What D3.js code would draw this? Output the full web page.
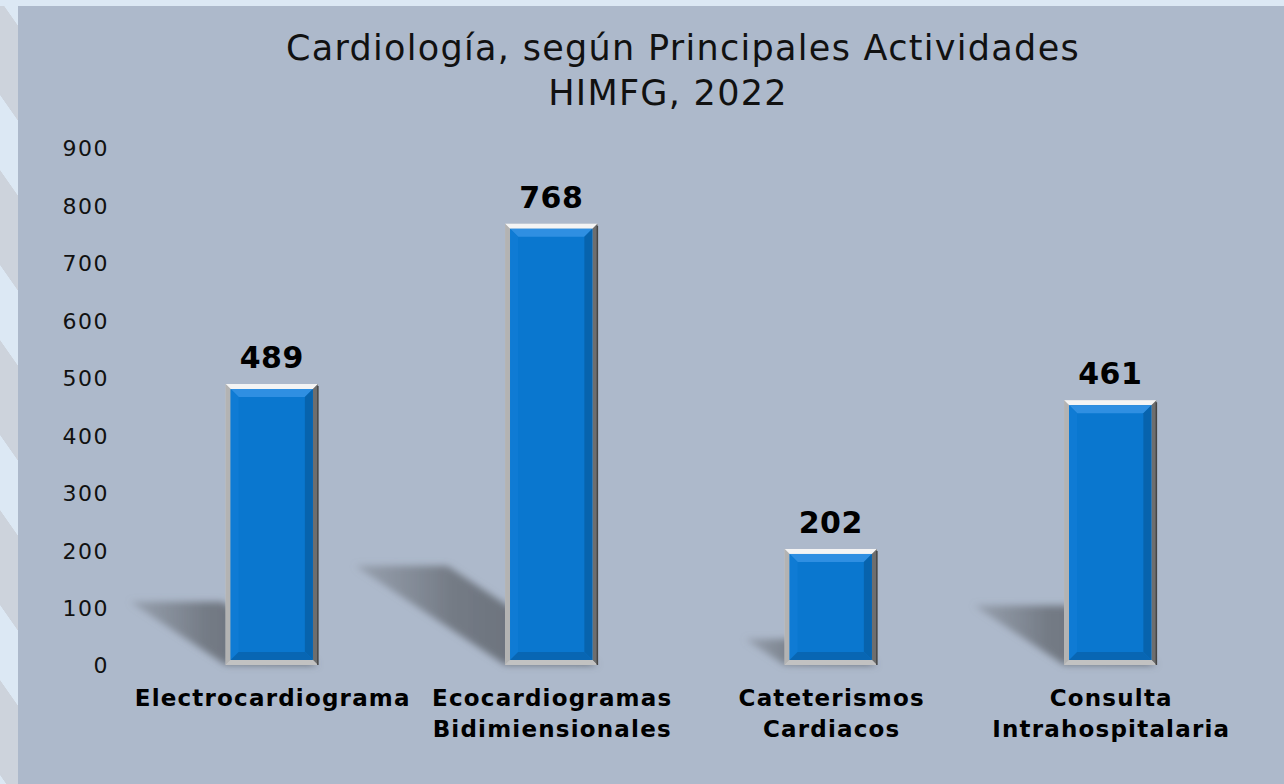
<!DOCTYPE html>
<html><head><meta charset="utf-8">
<script src="https://cdn.jsdelivr.net/npm/d3@7"></script>
<style>
html,body{margin:0;padding:0;background:#dce8f4;}
svg{display:block;}
</style></head>
<body>
<script>
const categories = [["Electrocardiograma"], ["Ecocardiogramas","Bidimiensionales"], ["Cateterismos","Cardiacos"], ["Consulta","Intrahospitalaria"]];
const values = [489, 768, 202, 461];
const yTicks = [0,100,200,300,400,500,600,700,800,900];
const titleLines = ["Cardiología, según Principales Actividades", "HIMFG, 2022"];

const W = 1284, H = 784;
const svg = d3.select("body").append("svg").attr("width", W).attr("height", H);
const defs = svg.append("defs");

// left decorative strip
const pat = defs.append("pattern").attr("id","stripes").attr("patternUnits","userSpaceOnUse")
  .attr("width", 60).attr("height", 170).attr("patternTransform","skewY(55)");
pat.append("rect").attr("width",60).attr("height",170).attr("fill","#dce8f4");
pat.append("rect").attr("y",0).attr("width",60).attr("height",95).attr("fill","#cdd3dc");
svg.append("rect").attr("x",0).attr("y",0).attr("width",W).attr("height",H).attr("fill","#dce8f4");
svg.append("rect").attr("x",0).attr("y",6).attr("width",18).attr("height",H).attr("fill","url(#stripes)");

// panel
svg.append("rect").attr("x",18).attr("y",6).attr("width",W-18).attr("height",H-6).attr("fill","#adb9cb");

const blur = defs.append("filter").attr("id","blur").attr("x","-20%").attr("y","-20%").attr("width","140%").attr("height","140%");
blur.append("feGaussianBlur").attr("stdDeviation",3.5);
const sg = defs.append("linearGradient").attr("id","shgrad").attr("x1",0).attr("x2",1).attr("y1",0).attr("y2",0);
sg.append("stop").attr("offset","0%").attr("stop-color","#7a8089").attr("stop-opacity",0.45);
sg.append("stop").attr("offset","40%").attr("stop-color","#6a7079").attr("stop-opacity",0.85);
sg.append("stop").attr("offset","100%").attr("stop-color","#5d636c").attr("stop-opacity",0.95);

const x = d3.scaleBand().domain(d3.range(values.length)).range([132, 1250]).paddingInner(0.67).paddingOuter(0.335);
const y = d3.scaleLinear().domain([0, 900]).range([665, 148]);

// y axis labels
const yAxis = d3.axisLeft(y).tickValues(yTicks).tickSize(0).tickPadding(0);
const gy = svg.append("g").attr("transform","translate(109,0)").call(yAxis);
gy.select(".domain").remove();
gy.selectAll("text").attr("font-family","'DejaVu Sans', sans-serif").attr("font-size",22).attr("fill","#111")
  .attr("letter-spacing", 1.5).attr("dy","0.36em");

// shadows
const sh = svg.append("g").attr("filter","url(#blur)");
values.forEach((v,i)=>{
  const xl = x(i), xr = x(i)+x.bandwidth(), y0 = y(0);
  const h = y0 - y(v);
  const dx = -0.34*h, dy = -0.225*h;
  const pts = [[xl+dx,y0+dy],[xr+dx,y0+dy],[xr,y0],[xl,y0]];
  sh.append("polygon").attr("points", pts.map(p=>p.join(",")).join(" ")).attr("fill","url(#shgrad)");
});

// bars with bevel
const bars = svg.append("g");
values.forEach((v,i)=>{
  const x0 = x(i), w = x.bandwidth(), y0 = y(v), y1 = y(0), x1 = x0 + w;
  const g = bars.append("g");
  const b = 5; // outer frame
  const poly = (pts, fill) => g.append("polygon").attr("points", pts.map(p=>p.join(",")).join(" ")).attr("fill", fill);
  g.append("rect").attr("x",x0).attr("y",y0).attr("width",w).attr("height",y1-y0).attr("fill","#c9c9c9");
  poly([[x0,y0],[x1,y0],[x1-b,y0+b],[x0+b,y0+b]], "#f4f4f4");
  poly([[x0,y0],[x0+b,y0+b],[x0+b,y1-b],[x0,y1]], "#b3b3b3");
  poly([[x1,y0],[x1,y1],[x1-b,y1-b],[x1-b,y0+b]], "#6e6e6e");
  poly([[x0,y1],[x0+b,y1-b],[x1-b,y1-b],[x1,y1]], "#c2c2c2");
  g.append("line").attr("x1",x1).attr("x2",x1).attr("y1",y0+2).attr("y2",y1).attr("stroke","#444").attr("stroke-width",1.5);
  // inner blue
  const ix0 = x0+b, ix1 = x1-b, iy0 = y0+b, iy1 = y1-b, c = 8;
  g.append("rect").attr("x",ix0).attr("y",iy0).attr("width",ix1-ix0).attr("height",iy1-iy0).attr("fill","#0a77cf");
  const p2 = (pts, fill) => g.append("polygon").attr("points", pts.map(p=>p.join(",")).join(" ")).attr("fill", fill);
  p2([[ix0,iy0],[ix1,iy0],[ix1-c,iy0+c],[ix0+c,iy0+c]], "#2f8fe2");
  p2([[ix0,iy0],[ix0+c,iy0+c],[ix0+c,iy1-c],[ix0,iy1]], "#0f7bd4");
  p2([[ix1,iy0],[ix1,iy1],[ix1-c,iy1-c],[ix1-c,iy0+c]], "#0763ad");
  p2([[ix0,iy1],[ix0+c,iy1-c],[ix1-c,iy1-c],[ix1,iy1]], "#0866b3");
});

// value labels
svg.append("g").selectAll("text").data(values).join("text")
  .attr("x",(d,i)=>x(i)+x.bandwidth()/2).attr("y",d=>y(d)-16)
  .attr("text-anchor","middle").attr("font-family","'DejaVu Sans', sans-serif").attr("font-weight","bold")
  .attr("font-size",30).attr("letter-spacing",0.5).attr("fill","#000").text(d=>d);

// category labels
const cg = svg.append("g");
categories.forEach((lines,i)=>{
  const t = cg.append("text").attr("y", 706)
    .attr("text-anchor","middle").attr("font-family","'DejaVu Sans', sans-serif").attr("font-weight","bold")
    .attr("font-size",23).attr("letter-spacing",1.2).attr("fill","#000");
  lines.forEach((l,j)=>t.append("tspan").attr("x", x(i)+x.bandwidth()/2 + 1).attr("dy", j===0?0:31).text(l));
});

// title
const tt = svg.append("text").attr("text-anchor","middle").attr("font-family","'DejaVu Sans', sans-serif")
  .attr("font-size",35).attr("letter-spacing",1.3).attr("fill","#111");
titleLines.forEach((l,j)=>tt.append("tspan").attr("x", j===0?683:668).attr("y", 60 + j*45).text(l));
</script>
</body></html>
